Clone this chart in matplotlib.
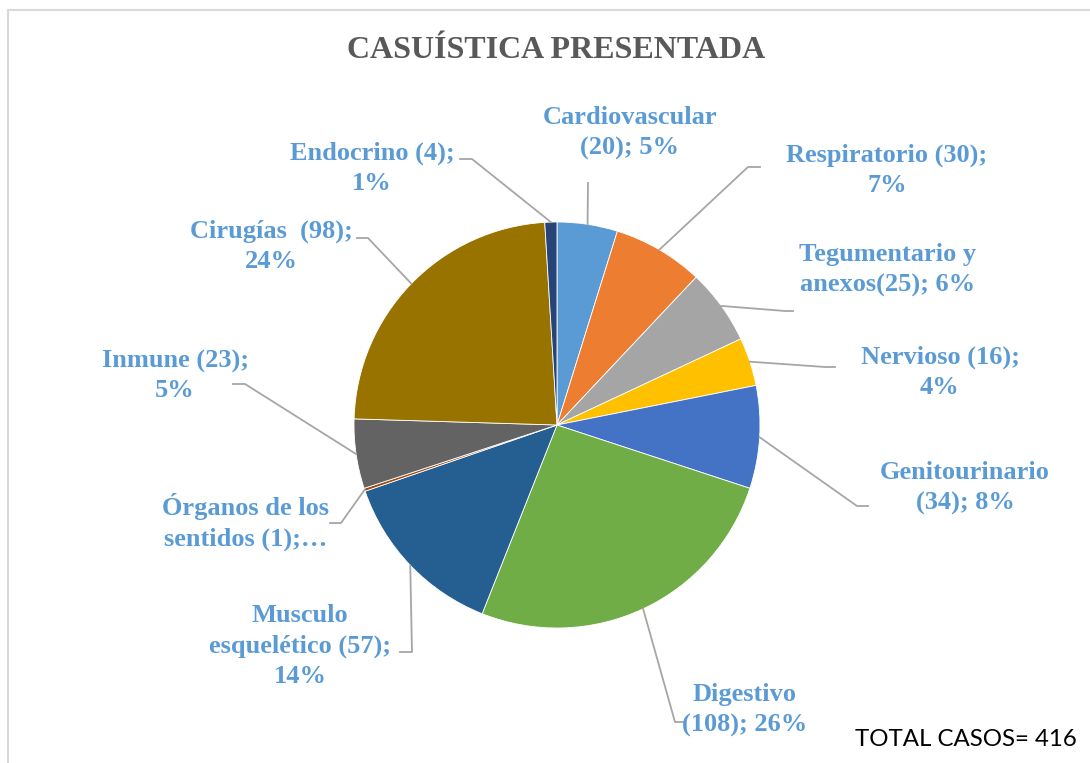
import numpy as np
import matplotlib
matplotlib.use('Agg')
from matplotlib import pyplot as plt
from matplotlib.patches import Rectangle

# Datos del gráfico
sistemas = ['Cardiovascular', 'Respiratorio', 'Tegumentario y\nanexos', 'Nervioso', 'Genitourinario',
            'Digestivo', 'Musculo\nesquelético', 'Órganos de los\nsentidos', 'Inmune', 'Cirugías ', 'Endocrino']
casos = [20, 30, 25, 16, 34, 108, 57, 1, 23, 98, 4]
etiquetas = ['Cardiovascular\n(20); 5%', 'Respiratorio (30);\n7%', 'Tegumentario y\nanexos(25); 6%',
             'Nervioso (16);\n4%', 'Genitourinario\n(34); 8%', 'Digestivo\n(108); 26%',
             'Musculo\nesquelético (57);\n14%', 'Órganos de los\nsentidos (1);…', 'Inmune (23);\n5%',
             'Cirugías  (98);\n24%', 'Endocrino (4);\n1%']
colores = ['#5B9BD5', '#ED7D31', '#A5A5A5', '#FFC000', '#4472C4', '#70AD47',
           '#255E91', '#9E480E', '#636363', '#997300', '#264478']

# Posiciones (pixeles de la imagen): centro del texto, codo y fin de la línea guía
pos_texto = [(630, 133), (887, 170), (888, 270), (940, 372), (965, 488), (745, 710),
             (300, 646), (246, 522), (175, 376), (271, 246), (372, 168)]
codo = [(588, 183), (748, 167), (785, 311), (825, 367), (857, 506), (675, 722),
        (412, 652), (341, 523), (245, 384), (368, 238), (472, 159)]
fin = [(588, 183), (760, 167), (793, 311), (835, 367), (868, 506), (683, 722),
       (400, 652), (330, 523), (233, 384), (357, 238), (460, 159)]

W, H = 1090, 763
cx, cy, r = 557, H - 425, 203

fig = plt.figure(figsize=(10.9, 7.63), dpi=100)
ax = fig.add_axes([0, 0, 1, 1])
ax.pie(casos, colors=colores, startangle=90, counterclock=False, center=(cx, cy), radius=r,
       wedgeprops=dict(linewidth=0.6, edgecolor='white'))
ax.axis('off')
ax.set_xlim(0, W)
ax.set_ylim(0, H)
ax.set_aspect('equal')

total = sum(casos)
acum = np.cumsum(casos) - np.array(casos) / 2
for i, et in enumerate(etiquetas):
    ang = np.deg2rad(90 - acum[i] / total * 360)
    x0, y0 = cx + r * np.cos(ang), cy + r * np.sin(ang)
    xs = [x0, codo[i][0], fin[i][0]]
    ys = [y0, H - codo[i][1], H - fin[i][1]]
    ax.plot(xs, ys, color='#A6A6A6', lw=1.3, zorder=1)
    ax.text(pos_texto[i][0], H - pos_texto[i][1], et, ha='center', va='center',
            multialignment='center', fontsize=19, fontweight='bold',
            family='Liberation Serif', color='#5B9BD5', linespacing=1.38)

ax.text(556, H - 50, 'CASUÍSTICA PRESENTADA', ha='center', va='center', fontsize=23,
        fontweight='bold', family='Liberation Serif', color='#595959')
ax.text(855, H - 740, 'TOTAL CASOS= 416', ha='left', va='center', fontsize=17.3,
        family='Lato', color='black')

# Borde del área del gráfico
ax.add_patch(Rectangle((8, -10), 1200, H - 10 + 10, fill=False, edgecolor='#D9D9D9',
                       lw=1.5, clip_on=False))

plt.savefig('out.png', dpi=100)
